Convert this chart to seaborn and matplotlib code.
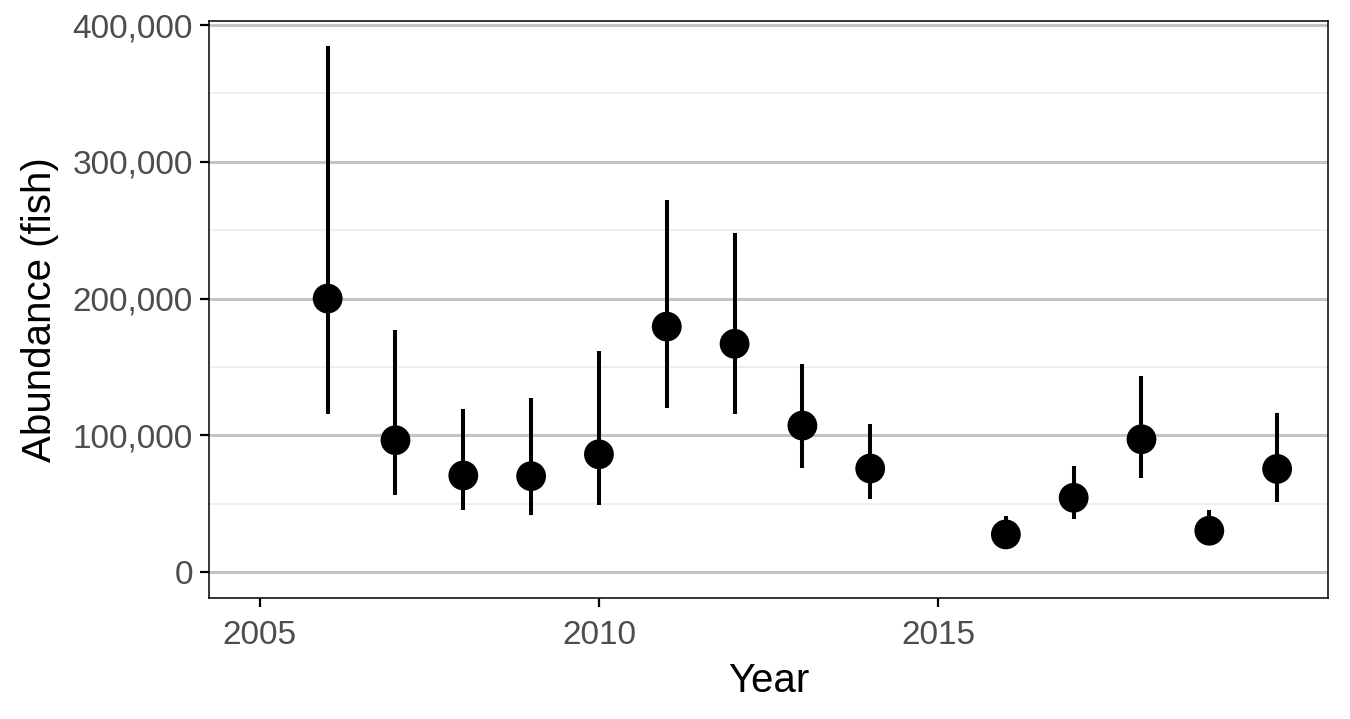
import pandas as pd
import matplotlib.pyplot as plt
import matplotlib.ticker as mticker
import seaborn as sns

# Datos
years = [2006, 2007, 2008, 2009, 2010, 2011, 2012, 2013, 2014, 2016, 2017, 2018, 2019, 2020]
abundance = [200000, 96400, 70600, 70100, 86100, 179500, 166900, 107100, 75700, 27500, 54300, 97100, 30200, 75400]
lower = [115500, 56000, 45500, 41400, 49200, 119900, 115800, 76200, 53100, 19000, 38500, 68400, 21000, 50900]
upper = [384700, 177100, 119500, 127200, 161500, 272300, 247700, 152500, 108300, 40700, 77400, 143300, 45700, 116100]
x_ticks = [2005, 2010, 2015]
y_ticks = [0, 100000, 200000, 300000, 400000]

df = pd.DataFrame({'Year': years, 'Abundance': abundance, 'Lower': lower, 'Upper': upper})

sns.set_theme(style="white")
plt.rcParams['font.family'] = ['Liberation Sans', 'DejaVu Sans']

fig = plt.figure(figsize=(13.5, 7.19), dpi=100)
ax = fig.add_axes([0.1548, 0.1683, 0.9837 - 0.1548, 0.9708 - 0.1683])

# Rejilla
for v in y_ticks:
    ax.axhline(v, color='#c4c4c4', lw=2.2, zorder=0)
for v in [50000, 150000, 250000, 350000]:
    ax.axhline(v, color='#ebebeb', lw=1.1, zorder=0)

# Intervalos y puntos
ax.vlines(df['Year'], df['Lower'], df['Upper'], color='black', lw=2.9, zorder=2)
sns.scatterplot(x='Year', y='Abundance', data=df, ax=ax, color='black', s=460,
                edgecolor='none', zorder=3)

ax.set_xlim(2004.25, 2020.75)
ax.set_ylim(-19000, 403000)
ax.set_xticks(x_ticks)
ax.set_yticks(y_ticks)
ax.yaxis.set_major_formatter(mticker.FuncFormatter(lambda v, p: f"{int(v):,}"))

for s in ax.spines.values():
    s.set_color('black')
    s.set_linewidth(1.1)

ax.tick_params(axis='both', direction='out', length=6.5, width=1.6, color='black',
               labelsize=24, labelcolor='#4d4d4d', left=True, bottom=True)
ax.tick_params(axis='x', pad=9)
ax.tick_params(axis='y', pad=5)
ax.set_xlabel("Year", fontsize=29, color='black', labelpad=8)
ax.set_ylabel("Abundance (fish)", fontsize=29, color='black', labelpad=10)

fig.savefig("out.png", dpi=100)
